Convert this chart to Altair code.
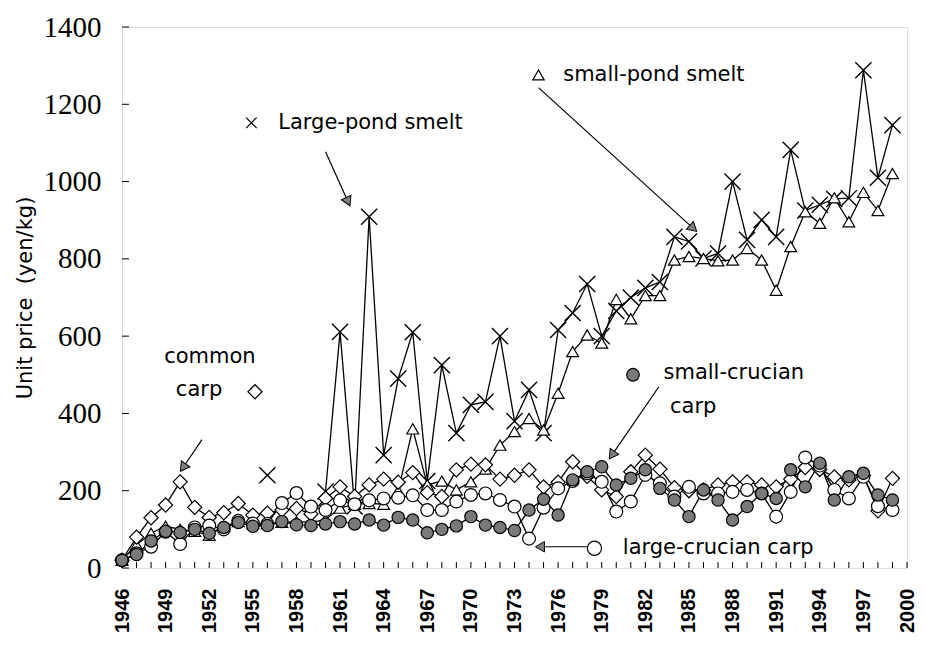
import altair as alt
import pandas as pd

years = list(range(1946, 2000))

large_pond_smelt = [None, None, None, None, None, None, None, None, None, None,
                    240, None, None, None,
                    198, 611, 159, 909, 292, 490, 610, 225, 525, 349,
                    422, 430, 600, 380, 461, 349, 616, 660, 735, 600,
                    665, 700, 725, 740, 857, 845, 801, 814, 1000, 849,
                    901, 857, 1082, 925, 940, 955, 957, 1288, 1010, 1146]

small_pond_smelt = [20, 60, 90, 108, 100, 95, 85, 108, 120, 115,
                    115, 118, 120, 118, 125, 155, 165, 167, 165, 200,
                    360, 215, 225, 202, 223, 256, 318, 353, 387, 357,
                    452, 560, 603, 582, 695, 645, 705, 705, 797, 806,
                    801, 795, 797, 827, 797, 719, 832, 922, 892, 958,
                    896, 972, 925, 1021]

common_carp = [20, 80, 130, 163, 223, 157, 131, 143, 167, 137,
               142, 150, 154, 140, 180, 210, 185, 215, 230, 222,
               247, 195, 185, 254, 269, 267, 230, 240, 254, 210,
               222, 275, 237, 202, 185, 249, 292, 256, 208, 200,
               202, 215, 223, 223, 215, 210, 230, 260, 255, 236,
               228, 240, 148, 232]

large_crucian_carp = [20, 38, 55, 94, 62, 105, 110, 100, 122, 115,
                      114, 168, 194, 159, 150, 175, 165, 175, 180, 182,
                      188, 150, 150, 172, 189, 193, 176, 159, 76, 156,
                      206, 225, 245, 223, 146, 172, 241, 219, 185, 210,
                      193, 193, 197, 202, 193, 133, 197, 286, 265, 202,
                      180, 236, 160, 150]

small_crucian_carp = [20, 35, 70, 95, 92, 100, 90, 105, 118, 108,
                      110, 120, 112, 110, 114, 120, 114, 124, 111, 131,
                      124, 91, 100, 109, 133, 111, 105, 97, 150, 178,
                      137, 228, 249, 262, 215, 232, 254, 206, 176, 133,
                      202, 176, 124, 159, 193, 180, 254, 210, 271, 176,
                      236, 245, 189, 176]

x_tick_labels = list(range(1946, 2001, 3))
x_minor_ticks = list(range(1946, 2001))
y_tick_labels = list(range(0, 1401, 200))

# annotation texts (positions in data units: year, value)
note_text = ["Large-pond smelt", "small-pond smelt", "common", "carp",
             "small-crucian", "carp", "large-crucian carp"]
note_year = [1956.75, 1976.35, 1952.05, 1951.3, 1983.25, 1983.7, 1980.45]
note_value = [1152, 1276, 546, 461, 505, 417, 51]
note_align = ["left", "left", "center", "center", "left", "left", "left"]

# arrows: start (year, value) -> end (year, value), head angle
arrow_year = [1960.0, 1974.65, 1951.5, 1982.93, 1978.0]
arrow_value = [1077, 1243, 332, 469, 55]
arrow_year2 = [1961.55, 1985.3, 1950.2, 1979.7, 1974.75]
arrow_value2 = [948, 879, 260, 292, 55]
arrow_angle = [155, 132, 215, 215, 270]

W, H = 785, 541

x_scale = alt.Scale(domain=[1946, 2000], nice=False, zero=False)
y_scale = alt.Scale(domain=[0, 1400], nice=False)

x_enc = alt.X("year:Q", scale=x_scale,
              axis=alt.Axis(values=x_tick_labels, format="d", labelAngle=270,
                            labelFont="Liberation Sans", labelFontSize=20,
                            labelFontWeight="bold", labelColor="#000",
                            labelPadding=20, ticks=False, grid=False,
                            domain=False, title=None, labelOverlap=False))
y_enc = alt.Y("value:Q", scale=y_scale,
              axis=alt.Axis(values=y_tick_labels, format="d",
                            labelFont="Liberation Serif", labelFontSize=29,
                            labelColor="#000", labelPadding=21, ticks=False,
                            grid=False, domain=False,
                            title="Unit price\u00a0\u00a0(yen/kg)",
                            titleFont="DejaVu Sans", titleFontSize=21,
                            titleFontWeight="normal", titleColor="#000",
                            titleAngle=270, titleX=-97, titleY=H / 2,
                            titleAlign="center", titleBaseline="middle"))


def frame(values):
    rows = []
    seg = 0
    for yr, v in zip(years, values):
        if v is None:
            seg += 1
            continue
        rows.append({"year": yr, "value": v, "seg": seg})
    return pd.DataFrame(rows)


XPATH = "M-1,-1L1,1M1,-1L-1,1"


def series(values, shape, size, fill, filled, stroke_w=1.2):
    df = frame(values)
    base = alt.Chart(df)
    line = base.mark_line(color="#000", strokeWidth=1.3).encode(
        x=x_enc, y=y_enc, detail="seg:N")
    kw = dict(shape=shape, size=size, filled=filled, stroke="#000",
              strokeWidth=stroke_w, opacity=1)
    if fill is not None:
        kw["fill"] = fill
    pt = base.mark_point(**kw).encode(x=x_enc, y=y_enc)
    return line, pt


lp_line, lp_pt = series(large_pond_smelt, XPATH, 260, None, False, 1.4)
sp_line, sp_pt = series(small_pond_smelt, "triangle-up", 140, "#fff", True)
cc_line, cc_pt = series(common_carp, "diamond", 200, "#fff", True)
lc_line, lc_pt = series(large_crucian_carp, "circle", 165, "#fff", True)
sc_line, sc_pt = series(small_crucian_carp, "circle", 150, "#7a7a7a", True)

# inward ticks
xt = alt.Chart(pd.DataFrame({"year": x_minor_ticks})).mark_rule(
    color="#000", strokeWidth=1).encode(x=x_enc, y=alt.value(H), y2=alt.value(H - 6))
yt = alt.Chart(pd.DataFrame({"value": y_tick_labels})).mark_rule(
    color="#000", strokeWidth=1).encode(y=y_enc, x=alt.value(0), x2=alt.value(7))

notes = pd.DataFrame({"year": note_year, "value": note_value,
                      "label": note_text, "align": note_align})
txt_left = alt.Chart(notes[notes["align"] == "left"]).mark_text(
    align="left", baseline="middle", font="DejaVu Sans", fontSize=21,
    color="#000").encode(x=x_enc, y=y_enc, text="label:N")
txt_center = alt.Chart(notes[notes["align"] == "center"]).mark_text(
    align="center", baseline="middle", font="DejaVu Sans", fontSize=21,
    color="#000").encode(x=x_enc, y=y_enc, text="label:N")

arrows = pd.DataFrame({"year": arrow_year, "value": arrow_value,
                       "year2": arrow_year2, "value2": arrow_value2})
arrow_lines = alt.Chart(arrows).mark_rule(color="#000", strokeWidth=1.2).encode(
    x=x_enc, y=y_enc, x2="year2:Q", y2="value2:Q")
heads = pd.DataFrame({"year": arrow_year2, "value": arrow_value2,
                      "angle": arrow_angle})
arrow_heads = alt.Chart(heads).mark_point(
    shape="triangle-up", size=110, filled=True, fill="#808080",
    stroke="#000", strokeWidth=1, opacity=1).encode(
    x=x_enc, y=y_enc, angle=alt.Angle("angle:Q", scale=None))


def key(shape, yr, val, size, fill, filled, sw=1.2):
    kw = dict(shape=shape, size=size, filled=filled, stroke="#000",
              strokeWidth=sw, opacity=1)
    if fill is not None:
        kw["fill"] = fill
    return alt.Chart(pd.DataFrame({"year": [yr], "value": [val]})).mark_point(
        **kw).encode(x=x_enc, y=y_enc)


k_lp = key(XPATH, 1954.9, 1152, 110, None, False)
k_sp = key("triangle-up", 1974.65, 1276, 130, "#fff", True)
k_cc = key("diamond", 1955.15, 456, 200, "#fff", True)
k_sc = key("circle", 1981.15, 500, 160, "#7a7a7a", True)
k_lc = key("circle", 1978.5, 51, 200, "#fff", True)

chart = alt.layer(
    xt, yt,
    lp_line, sp_line, cc_line, lc_line, sc_line,
    lp_pt, sp_pt, cc_pt, lc_pt, sc_pt,
    arrow_lines, arrow_heads,
    txt_left, txt_center,
    k_lp, k_sp, k_cc, k_sc, k_lc,
).properties(
    width=W, height=H,
    autosize=alt.AutoSizeParams(type="none"),
    padding={"left": 114, "top": 19, "right": 10, "bottom": 70},
).configure_view(
    stroke="#000", strokeWidth=1.5
).configure(background="#ffffff")

chart.save("out.html", embed_options={"renderer": "svg", "actions": False})
